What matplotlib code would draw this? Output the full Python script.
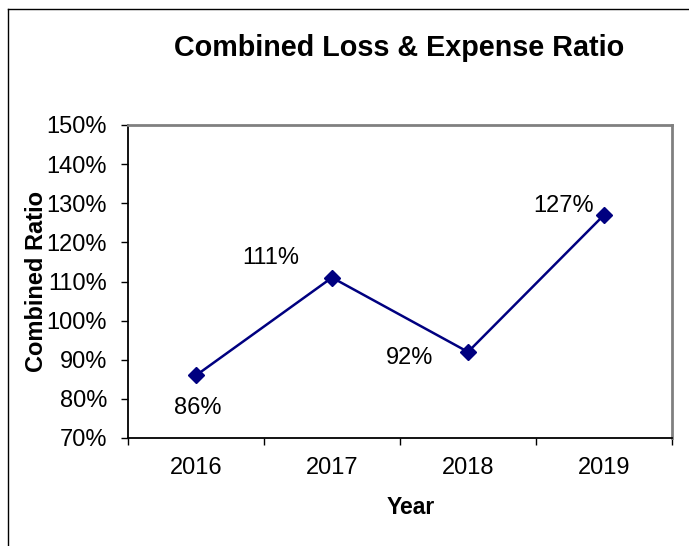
import matplotlib
matplotlib.use("Agg")
import matplotlib.pyplot as plt
from matplotlib.lines import Line2D
from matplotlib.ticker import FixedLocator, NullFormatter

plt.rcParams['font.family'] = ['Liberation Sans', 'DejaVu Sans']

# Data
years = ['2016', '2017', '2018', '2019']
ratios = [86, 111, 92, 127]
labels = ['86%', '111%', '92%', '127%']
# where each data label sits relative to its marker (pixels)
label_offsets = [(2, -33), (-61, 20), (-58, -6), (-40, 9)]

W, H = 689, 546
fig = plt.figure(figsize=(W / 100, H / 100), dpi=100)

# outer chart border: only the top and left edges show in the reference
fig.lines.append(Line2D([8 / W, 8 / W], [0, 1 - 9 / H], transform=fig.transFigure,
                        color='black', linewidth=1.0))
fig.lines.append(Line2D([8 / W, 1], [1 - 9 / H, 1 - 9 / H], transform=fig.transFigure,
                        color='black', linewidth=1.0))

ax = fig.add_axes([128 / W, 1 - 438 / H, (672 - 128) / W, (438 - 125) / H])

x = range(len(years))
ax.plot(x, ratios, color='#000080', linewidth=1.8, marker='D', markersize=8,
        markerfacecolor='#000080', markeredgecolor='#000080')

for xi, yi, lab, off in zip(x, ratios, labels, label_offsets):
    ax.annotate(lab, (xi, yi), xytext=off, textcoords='offset pixels',
                ha='center', va='center', fontsize=17, color='black')

ax.set_xlim(-0.5, 3.5)
ax.set_ylim(70, 150)
ax.set_yticks(range(70, 151, 10))
ax.set_yticklabels([f'{v}%' for v in range(70, 151, 10)])
ax.set_xticks(list(x))
ax.set_xticklabels(years)
ax.xaxis.set_minor_locator(FixedLocator([-0.5, 0.5, 1.5, 2.5, 3.5]))
ax.xaxis.set_minor_formatter(NullFormatter())
ax.tick_params(axis='x', which='major', length=0, pad=14, labelsize=17)
ax.tick_params(axis='x', which='minor', length=5, width=1, direction='out', color='black')
ax.tick_params(axis='y', length=5, width=1, direction='out', pad=10, labelsize=17)

for side in ['left', 'bottom']:
    ax.spines[side].set_color('black')
    ax.spines[side].set_linewidth(1.3)
for side in ['top', 'right']:
    ax.spines[side].set_color('#808080')
    ax.spines[side].set_linewidth(2)

fig.text(399 / W, 1 - 48.5 / H, 'Combined Loss & Expense Ratio', ha='center', va='center',
         fontsize=20.7, fontweight='bold')
fig.text(411 / W, 1 - 507 / H, 'Year', ha='center', va='center', fontsize=16.5, fontweight='bold')
fig.text(37 / W, 1 - 281 / H, 'Combined Ratio', ha='center', va='center', rotation=90,
         fontsize=17, fontweight='bold')

fig.savefig('out.png', dpi=100)
